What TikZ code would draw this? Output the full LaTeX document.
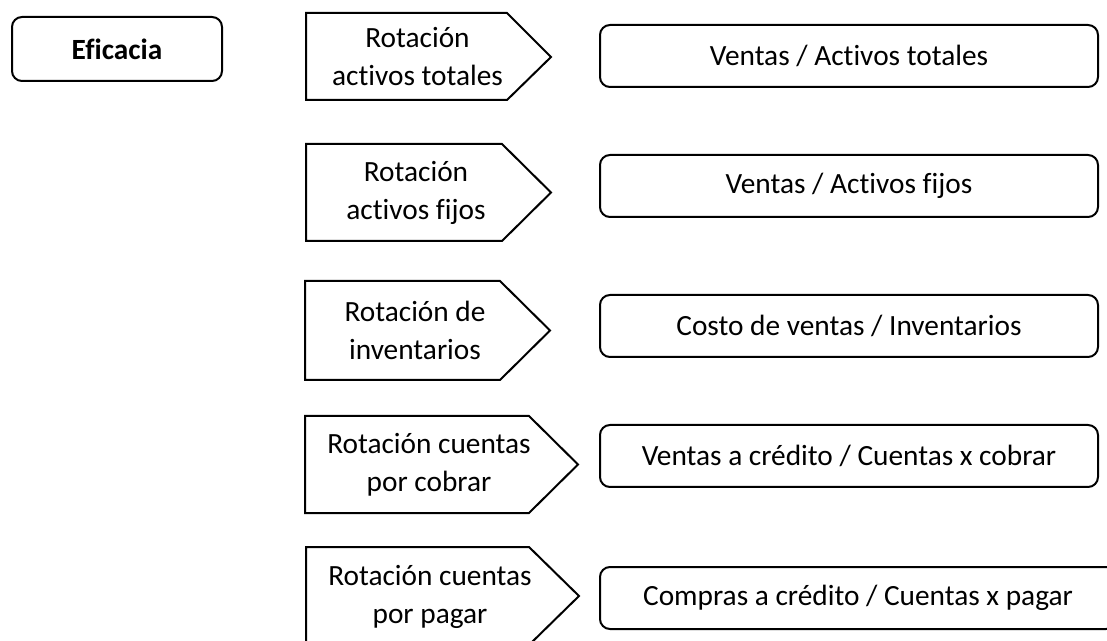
\documentclass[tikz,border=0pt]{standalone}
\usepackage{fontspec}
\setmainfont{Carlito}[Ligatures=NoCommon]
\begin{document}
\begin{tikzpicture}[x=0.75pt,y=-0.75pt,
  shapeline/.style={draw=black,line width=1.5pt,line join=miter},
  rbox/.style={shapeline,rounded corners=7.5pt},
  txt/.style={align=center,inner sep=0pt,font=\fontsize{22}{28.5}\selectfont},
  btxt/.style={txt,font=\fontsize{22}{28.5}\selectfont\bfseries}]
\useasboundingbox (0,0) rectangle (1107,641);
\clip (0,0) rectangle (1107,641);
% Eficacia
\draw[rbox] (12,17) rectangle (222,81);
\node[btxt] (efi) at (117,49) {Eficacia};
% pentagons
\draw[shapeline] (306,13) -- (507,13) -- (551,57) -- (507,100) -- (306,100) -- cycle;
\node[txt] (p1) at (417.5,57) {Rotación\\activos totales};
\draw[shapeline] (306,144) -- (502,144) -- (551,192.5) -- (502,241) -- (306,241) -- cycle;
\node[txt] (p2) at (416,192.5) {Rotación\\activos fijos};
\draw[shapeline] (305,281) -- (500,281) -- (550,330.5) -- (500,380) -- (305,380) -- cycle;
\node[txt] (p3) at (415,330.5) {Rotación de\\inventarios};
\draw[shapeline] (305,416) -- (529,416) -- (578,464.5) -- (529,513) -- (305,513) -- cycle;
\node[txt] (p4) at (429,464.5) {Rotación cuentas\\por cobrar};
\draw[shapeline] (306,547) -- (529,547) -- (579,596) -- (529,645) -- (306,645) -- cycle;
\node[txt] (p5) at (430,597) {Rotación cuentas\\por pagar};
% right boxes
\draw[rbox] (600,25) rectangle (1098,87);
\node[txt] (b1) at (849,56) {Ventas / Activos totales};
\draw[rbox] (600,155) rectangle (1098,217);
\node[txt] (b2) at (849,186) {Ventas / Activos fijos};
\draw[rbox] (600,295) rectangle (1098,357);
\node[txt] (b3) at (849,326) {Costo de ventas / Inventarios};
\draw[rbox] (600,425) rectangle (1098,487);
\node[txt] (b4) at (849,456) {Ventas a crédito / Cuentas x cobrar};
\draw[rbox] (600,567) rectangle (1116,629);
\node[txt] (b5) at (858,598) {Compras a crédito / Cuentas x pagar};
\end{tikzpicture}
\end{document}
